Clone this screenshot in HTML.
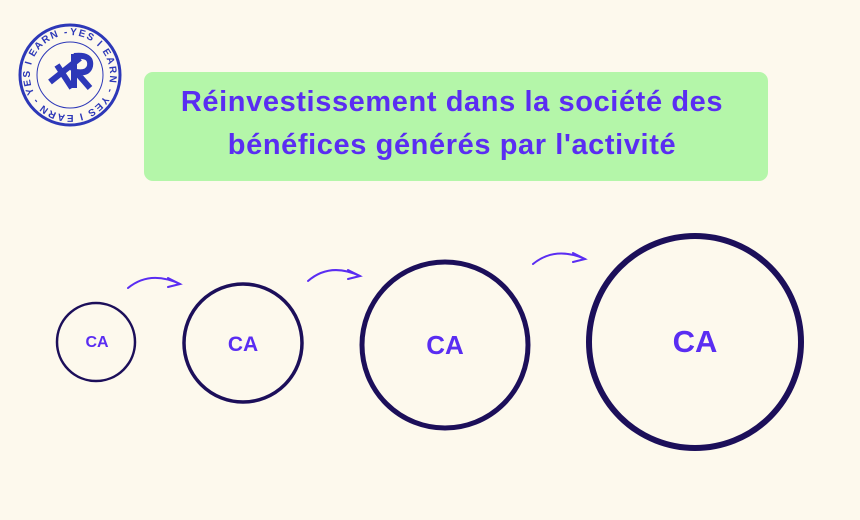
<!DOCTYPE html>
<html><head><meta charset="utf-8"><style>
body{margin:0;width:860px;height:520px;background:#fdf9ed;overflow:hidden;position:relative;font-family:"Liberation Sans",Arial,sans-serif}
.box{position:absolute;left:144px;top:72px;width:624px;height:109px;background:#b4f6a9;border-radius:9px;}
.t{position:absolute;left:140px;width:624px;text-align:center;color:#5a2df2;font-weight:bold;font-size:29px;letter-spacing:0.6px;white-space:nowrap}
</style></head><body>
<div class="box"></div>
<div class="t" style="top:86px">Réinvestissement dans la société des</div>
<div class="t" style="top:129px">bénéfices générés par l'activité</div>
<svg width="860" height="520" style="position:absolute;left:0;top:0">
<g fill="none" stroke="#1c0f5a">
<circle cx="96" cy="342" r="39" stroke-width="2.5"/>
<circle cx="243" cy="343" r="59" stroke-width="3.5"/>
<circle cx="445" cy="345" r="83" stroke-width="5"/>
<circle cx="695" cy="342" r="106" stroke-width="6"/>
</g>
<g fill="#5a2df2" font-weight="bold" text-anchor="middle" font-family="Liberation Sans,Arial,sans-serif">
<text x="97" y="347" font-size="16">CA</text>
<text x="243" y="351" font-size="21">CA</text>
<text x="445" y="354" font-size="26">CA</text>
<text x="695" y="352" font-size="31">CA</text>
</g>
<g fill="none" stroke="#5a2df2" stroke-width="2" stroke-linecap="round">
<path d="M128 288 Q150 270 180 284"/><path d="M168 278 L180 284 L168 287"/>
<path d="M308 281 Q330 262 360 276"/><path d="M348 270 L360 276 L348 279"/>
<path d="M533 264 Q555 246 585 259"/><path d="M573 253 L585 259 L573 262"/>
</g>
<g>
<circle cx="70" cy="75" r="50" fill="none" stroke="#2d38b8" stroke-width="3"/>
<circle cx="70" cy="75" r="33" fill="none" stroke="#2d38b8" stroke-width="1"/>
<path id="ring" d="M70 35 a40 40 0 1 1 -0.1 0" fill="none"/>
<text font-size="10" font-weight="bold" fill="#2d38b8" font-family="Liberation Sans,Arial,sans-serif"><textPath href="#ring" textLength="248">YES I EARN - YES I EARN - YES I EARN -</textPath></text>
<path d="M50 82 L80 58 M57 65 L72 88 M74 54 L74 88 M74 56 Q92 54 90 66 Q88 74 76 72 L90 88" fill="none" stroke="#2d38b8" stroke-width="6"/>
</g>
</svg>
</body></html>
